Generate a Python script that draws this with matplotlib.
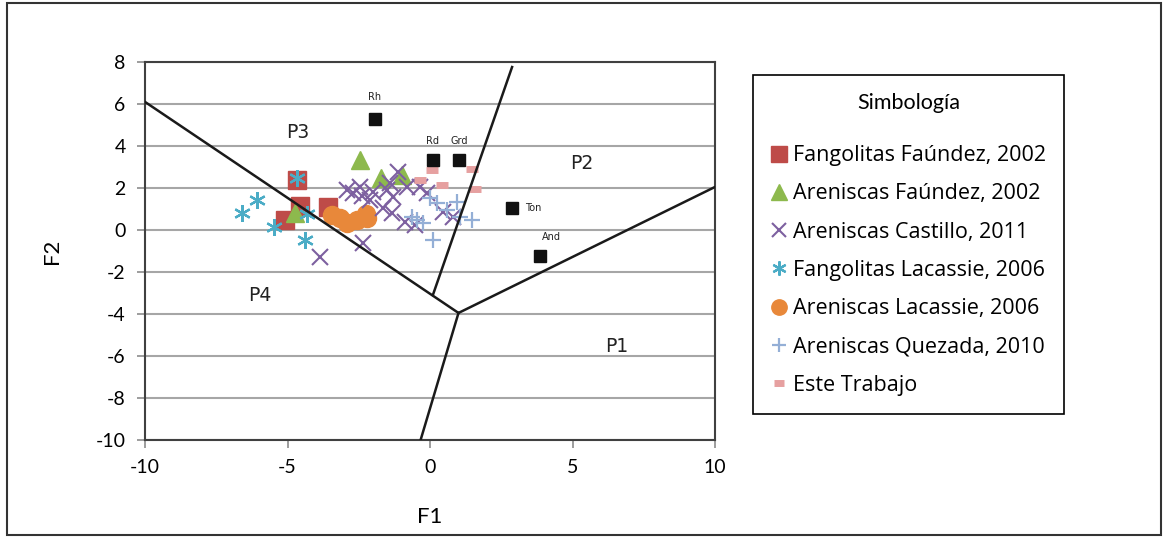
import numpy as np
import matplotlib
matplotlib.use("Agg")
import matplotlib.pyplot as plt
from matplotlib.patches import Rectangle

plt.rcParams["axes.unicode_minus"] = False

# --- data ---
fang_fau_x = [-4.68, -4.56, -5.09, -3.57]
fang_fau_y = [2.38, 1.15, 0.50, 1.10]

aren_fau_x = [-2.46, -1.72, -0.99, -4.74]
aren_fau_y = [3.33, 2.48, 2.62, 0.80]

castillo_x = [-3.85, -2.92, -2.69, -2.46, -2.35, -2.10, -1.99, -1.64, -1.52, -1.40,
              -1.30, -1.11, -0.82, -0.88, -0.53, -0.35, -0.12, 0.47, 0.82, -1.35, -2.40]
castillo_y = [-1.30, 1.90, 1.75, 2.06, -0.60, 1.43, 1.83, 1.05, 1.90, 2.22,
              1.59, 2.78, 2.06, 0.40, 0.24, 2.06, 1.75, 0.87, 0.63, 0.79, 1.60]

fang_lac_x = [-4.65, -6.08, -6.61, -5.47, -4.30, -4.39]
fang_lac_y = [2.50, 1.43, 0.79, 0.16, 0.75, -0.48]

aren_lac_x = [-3.45, -3.15, -2.90, -2.55, -2.25, -2.20]
aren_lac_y = [0.72, 0.55, 0.35, 0.50, 0.75, 0.55]

quez_x = [0.00, 0.23, -0.47, -0.23, -0.64, 0.58, 0.94, 1.46, 0.12, 1.05]
quez_y = [1.51, 1.27, 0.48, 0.32, 0.63, 0.95, 1.35, 0.48, -0.48, 0.63]

este_x = [0.06, -0.35, 0.41, 1.46, 1.58]
este_y = [2.86, 2.38, 2.14, 2.89, 1.94]

ref_names = ["Rh", "Rd", "Grd", "Ton", "And"]
ref_x = [-1.93, 0.10, 1.02, 2.88, 3.86]
ref_y = [5.29, 3.33, 3.33, 1.05, -1.24]

# field boundaries (x0, y0, x1, y1)
bounds = [(-10.0, 6.1, 1.0, -3.95),
          (1.0, -3.95, 10.0, 2.05),
          (1.0, -3.95, -0.33, -10.0),
          (0.1, -3.1, 2.88, 7.76)]

fields = ["P1", "P2", "P3", "P4"]
field_x = [6.56, 5.33, -4.65, -5.96]
field_y = [-5.57, 3.19, 4.62, -3.10]

# --- figure ---
fig = plt.figure(figsize=(11.67, 5.37), dpi=100)
W, H = 1167, 537
ax = fig.add_axes([145/W, 1-440/H, (715-145)/W, (440-62)/H])

tickfont = "Lato"
ax.set_xlim(-10, 10)
ax.set_ylim(-10, 8)
ax.set_xticks([-10, -5, 0, 5, 10])
ax.set_yticks(np.arange(-10, 9, 2))
ax.yaxis.grid(True, color="#a6a6a6", linewidth=1.5)
ax.set_axisbelow(True)
for s in ax.spines.values():
    s.set_color("#404040")
    s.set_linewidth(1.5)
ax.tick_params(direction="out", length=6, width=1.2, color="#8c8c8c",
               labelsize=14, pad=8)
for lab in ax.get_xticklabels() + ax.get_yticklabels():
    lab.set_family(tickfont)
ax.set_xlabel("F1", fontsize=16, family=tickfont, labelpad=22)
ax.set_ylabel("F2", fontsize=16, family=tickfont, labelpad=24)

# boundary lines
for x0, y0, x1, y1 in bounds:
    ax.plot([x0, x1], [y0, y1], color="#1a1a1a", linewidth=1.8, zorder=6)

for name, fx, fy in zip(fields, field_x, field_y):
    ax.text(fx, fy, name, fontsize=13.5, family="DejaVu Sans", ha="center",
            va="center", color="#222222")

h1, = ax.plot(fang_fau_x, fang_fau_y, "s", color="#be4b48", ms=13, ls="none", zorder=3)
h2, = ax.plot(aren_fau_x, aren_fau_y, "^", color="#8db94d", ms=13, ls="none", zorder=3)
h3, = ax.plot(castillo_x, castillo_y, "x", color="#7d60a0", ms=12, mew=1.5, ls="none", zorder=4)
h4, = ax.plot(fang_lac_x, fang_lac_y, marker=(6, 2, 0), color="#4bacc6", ms=12, mew=1.6,
              ls="none", zorder=4)
h5, = ax.plot(aren_lac_x, aren_lac_y, "o", color="#e8883a", ms=13, ls="none", zorder=3)
h6, = ax.plot(quez_x, quez_y, "+", color="#94afd6", ms=12, mew=1.6, ls="none", zorder=4)
h7, = ax.plot(este_x, este_y, "_", color="#e6a0a0", ms=9, mew=5, ls="none", zorder=4)

ax.plot(ref_x, ref_y, "s", color="#111111", ms=9, ls="none", zorder=7)
offs = {"Rh": (0, 12, "center", "bottom"), "Rd": (0, 10, "center", "bottom"),
        "Grd": (0, 10, "center", "bottom"), "Ton": (9, 0, "left", "center"),
        "And": (8, 10, "center", "bottom")}
for name, rx, ry in zip(ref_names, ref_x, ref_y):
    dx, dy, ha, va = offs[name]
    ax.annotate(name, (rx, ry), xytext=(dx, dy), textcoords="offset points",
                fontsize=7, ha=ha, va=va, family="DejaVu Sans", color="#222222")

labels = ["Fangolitas Faúndez, 2002", "Areniscas Faúndez, 2002",
          "Areniscas Castillo, 2011", "Fangolitas Lacassie, 2006",
          "Areniscas Lacassie, 2006", "Areniscas Quezada, 2010", "Este Trabajo"]
leg = fig.legend([h1, h2, h3, h4, h5, h6, h7], labels, loc="upper left",
                 bbox_to_anchor=(753/W, 1-75/H), title="Simbología",
                 prop={"family": "Open Sans", "size": 15.5},
                 title_fontproperties={"family": "Lato", "size": 15.5},
                 frameon=True, fancybox=False, framealpha=1, edgecolor="black",
                 handlelength=0.7, handletextpad=0.3, labelspacing=0.8,
                 borderpad=0.85, borderaxespad=0, markerscale=0.85)
leg.get_frame().set_linewidth(1.2)
leg._legend_box.sep = 23  # extra gap below the title

# outer border
fig.patches.append(Rectangle((7/W, 2/H), 1154/W, 532/H, transform=fig.transFigure,
                             fill=False, edgecolor="#333333", linewidth=1.5))

fig.savefig("out.png", dpi=100)
